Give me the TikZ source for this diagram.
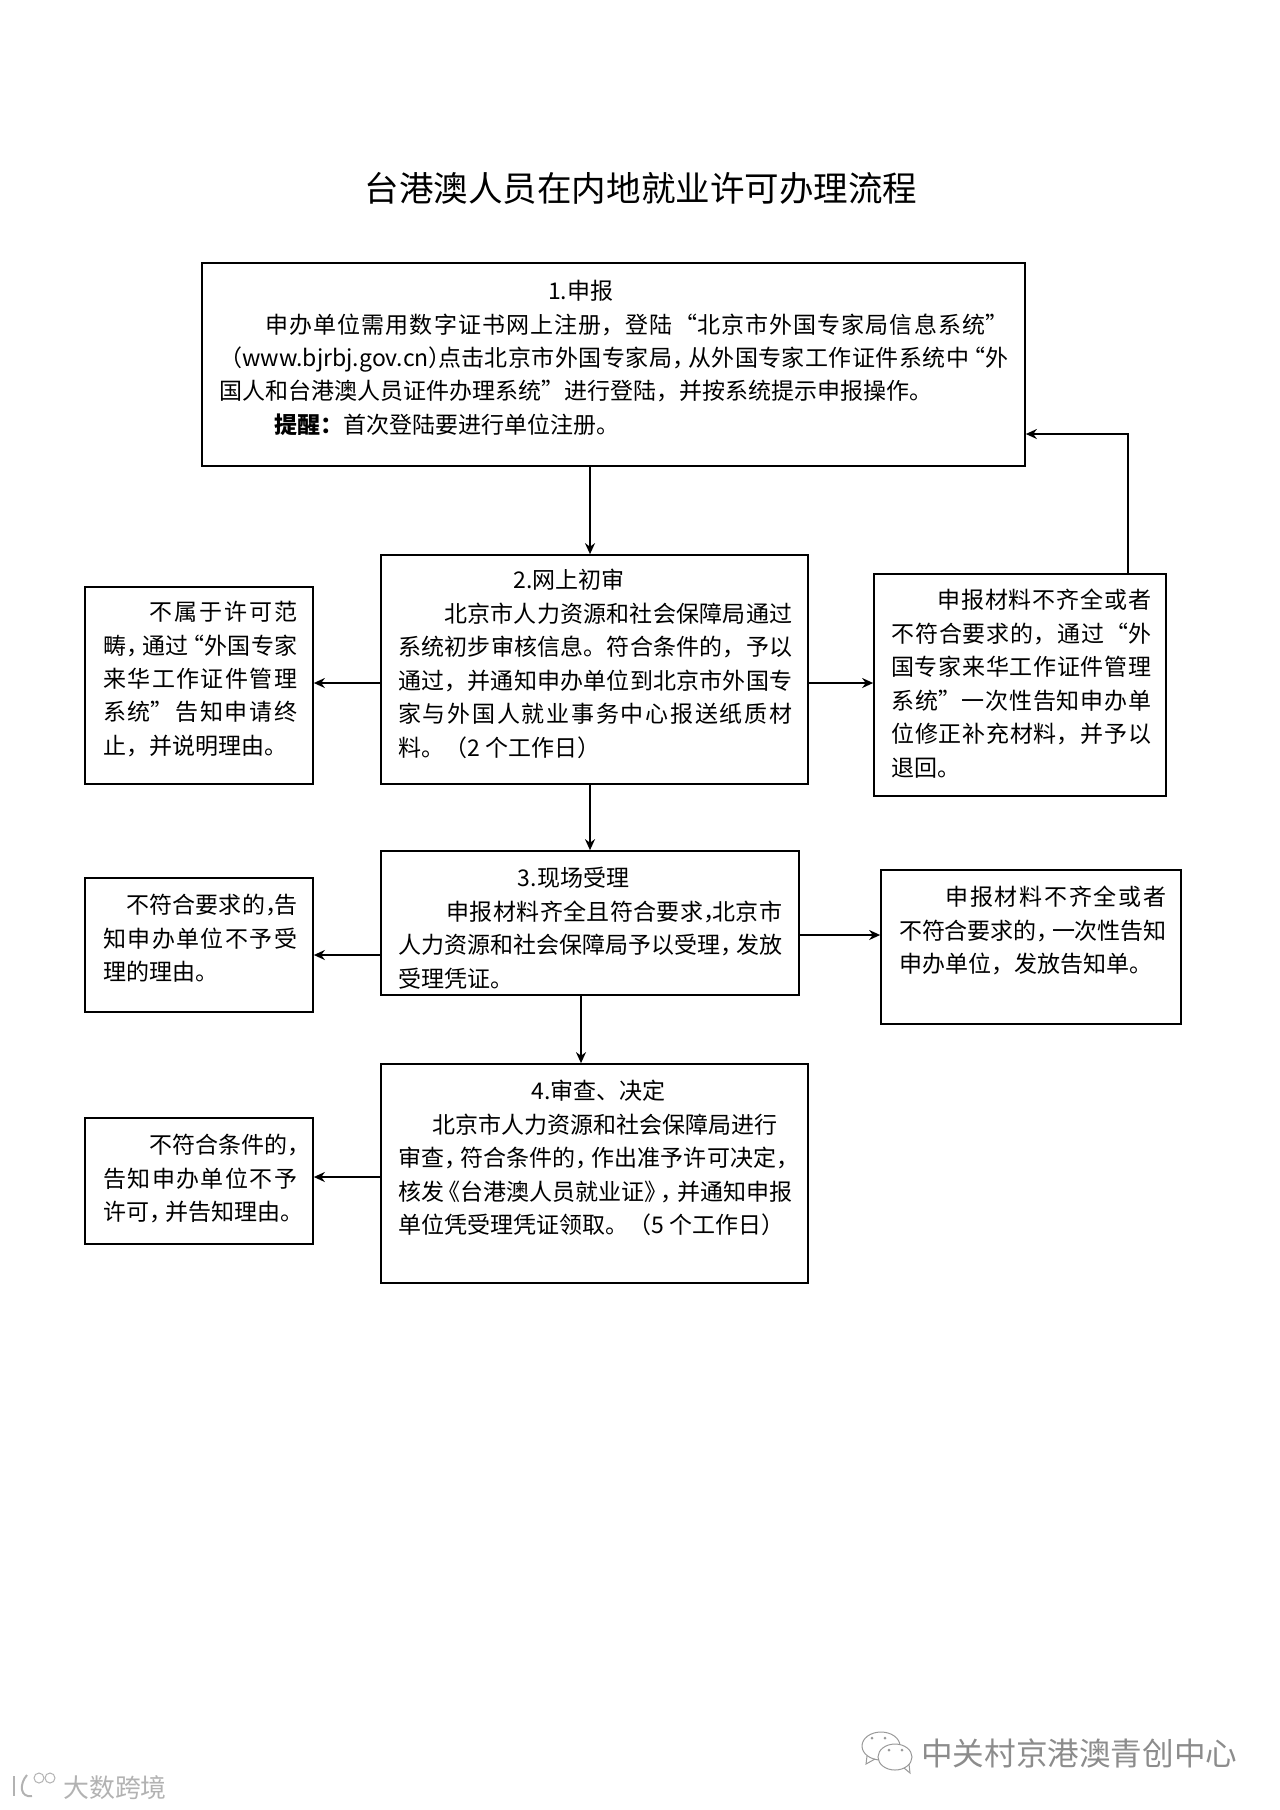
\documentclass[tikz,border=0pt]{standalone}
\usepackage{fontspec}
\setmainfont{Noto Sans CJK SC}
\usetikzlibrary{arrows.meta,positioning,calc}
\XeTeXlinebreaklocale "zh"
\XeTeXlinebreakskip=0pt plus 3pt minus 0.5pt
\hbadness=10000
\hfuzz=6pt
\newlength{\px}
\setlength{\px}{0.75pt}
\newcommand{\cc}{\kern-.3em\relax}
\tikzset{
  bx/.style={draw=black,fill=white,line width=1.7\px,inner sep=0pt},
  txt/.style={anchor=north west,inner sep=0pt,align=justify,font=\fontsize{17.25}{25.1}\selectfont},
  arr/.style={-{Stealth[length=8.25pt,width=7.5pt]},line width=1.7\px,draw=black},
  wmark/.style={font=\fontsize{23.7}{28}\selectfont,text=black!45,inner sep=0pt},
}
\begin{document}
\begin{tikzpicture}[x=0.75pt,y=-0.75pt]
  \useasboundingbox (0,0) rectangle (1280,1810);
  \node[font=\fontsize{25.9}{30}\selectfont,inner sep=0pt] (title) at (641,188) {台港澳人员在内地就业许可办理流程};
  % boxes
  \node[bx,minimum width=823\px,minimum height=203\px] (b1) at (613.5,364.5) {};
  \node[bx,minimum width=427\px,minimum height=229\px] (b2) at (594.5,669.5) {};
  \node[bx,minimum width=228\px,minimum height=197\px] (l2) at (199,685.5) {};
  \node[bx,minimum width=292\px,minimum height=222\px] (r2) at (1020,685) {};
  \node[bx,minimum width=418\px,minimum height=144\px] (b3) at (590,923) {};
  \node[bx,minimum width=228\px,minimum height=134\px] (l3) at (199,945) {};
  \node[bx,minimum width=300\px,minimum height=154\px] (r3) at (1031,947) {};
  \node[bx,minimum width=427\px,minimum height=219\px] (b4) at (594.5,1173.5) {};
  \node[bx,minimum width=228\px,minimum height=126\px] (l4) at (199,1181) {};
  % texts
  \node[txt,text width=789\px] (t1) at (219,280) {\hspace*{14.3em}1.申报\\
    \hspace*{2em}申办单位需用数字证书网上注册，登陆“北京市外国专家局信息系统”\linebreak
    （www.bjrbj.gov.cn）\cc\cc 点击北京市外国专家局，\cc 从外国专家工作证件系统中\cc“外\linebreak
    国人和台港澳人员证件办理系统”进行登陆，并按系统提示申报操作。\\
    \hspace*{2.4em}\textbf{提醒：}首次登陆要进行单位注册。};
  \node[txt,text width=394\px] (t2) at (398,569) {\hspace*{5em}2.网上初审\\
    \hspace*{2em}北京市人力资源和社会保障局通过\linebreak
    系统初步审核信息。符合条件的，予以\linebreak
    通过，并通知申办单位到北京市外国专\linebreak
    家与外国人就业事务中心报送纸质材\linebreak
    料。（2 个工作日）};
  \node[txt,text width=194\px] (t5) at (103,601) {\hspace*{2em}不属于许可范\linebreak
    畴，\cc 通过\cc“外国专家\linebreak
    来华工作证件管理\linebreak
    系统”告知申请终\linebreak
    止，并说明理由。};
  \node[txt,text width=260\px] (t6) at (891,589) {\hspace*{2em}申报材料不齐全或者\linebreak
    不符合要求的，通过“外\linebreak
    国专家来华工作证件管理\linebreak
    系统”一次性告知申办单\linebreak
    位修正补充材料，并予以\linebreak
    退回。};
  \node[txt,text width=384\px] (t3) at (398,867) {\hspace*{5.2em}3.现场受理\\
    \hspace*{2.1em}申报材料齐全且符合要求，\cc\cc 北京市\linebreak
    人力资源和社会保障局予以受理，\cc 发放\linebreak
    受理凭证。};
  \node[txt,text width=194\px] (t7) at (103,894) {\hspace*{1em}不符合要求的，\cc\cc 告\linebreak
    知申办单位不予受\linebreak
    理的理由。};
  \node[txt,text width=267\px] (t8) at (899,886) {\hspace*{2em}申报材料不齐全或者\linebreak
    不符合要求的，\cc 一次性告知\linebreak
    申办单位，发放告知单。};
  \node[txt,text width=394\px] (t4) at (398,1080) {\hspace*{5.8em}4.审查、决定\\
    \hspace*{1.5em}北京市人力资源和社会保障局进行\\
    审查，\cc 符合条件的，\cc 作出准予许可决定，\cc\linebreak
    核发\cc《台港澳人员就业证》\cc，\cc 并通知申报\linebreak
    单位凭受理凭证领取。（5 个工作日）};
  \node[txt,text width=194\px] (t9) at (103,1134) {\hspace*{2em}不符合条件的，\cc\cc\\
    告知申办单位不予\linebreak
    许可，\cc 并告知理由。\cc};
  % connectors
  \draw[arr] ([xshift=-23.5\px]b1.south) -- ([xshift=-4.5\px]b2.north);
  \draw[arr] ([xshift=-4.5\px]b2.south) -- ([xshift=0\px]b3.north);
  \draw[arr] ([xshift=-9\px]b3.south) -- ([xshift=-13.5\px]b4.north);
  \draw[arr] ([yshift=-13.5\px]b2.west) -- ([yshift=2.5\px]l2.east);
  \draw[arr] ([yshift=-13.5\px]b2.east) -- ([yshift=2\px]r2.west);
  \draw[arr] ([xshift=108\px]r2.north) |- ([yshift=-69.5\px]b1.east);
  \draw[arr] ([yshift=-32\px]b3.west) -- ([yshift=-10\px]l3.east);
  \draw[arr] ([yshift=-12\px]b3.east) -- ([yshift=12\px]r3.west);
  \draw[arr] ([yshift=-3.5\px]b4.west) -- ([yshift=4\px]l4.east);
  % marks
  \node[wmark,anchor=west] (m1) at (921,1753) {中关村京港澳青创中心};
  \node[wmark,anchor=west,font=\fontsize{19.4}{23}\selectfont,text=black!30] (m2) at (63,1788) {大数跨境};
  \begin{scope}[black!40,line width=1\px]
    \draw (881,1746) ellipse (19 and 14);
    \draw (867,1756) -- (866,1764) -- (875,1759);
    \fill (872,1738) circle (1.5);
    \fill (885,1738) circle (1.5);
    \draw[fill=white] (895,1757) ellipse (17 and 13);
    \draw (904,1768) -- (910,1773) -- (909,1764);
    \fill (889,1750) circle (1.5);
    \fill (902,1750) circle (1.5);
  \end{scope}
  \begin{scope}[black!30,line width=2\px]
    \draw (14,1776) -- (14,1796);
    \draw (27,1775) .. controls (19,1784) and (20,1798) .. (32,1796);
    \draw[line width=1\px] (39,1778) circle (5);
    \draw[line width=1\px] (50,1778) circle (5);
  \end{scope}
\end{tikzpicture}
\end{document}
